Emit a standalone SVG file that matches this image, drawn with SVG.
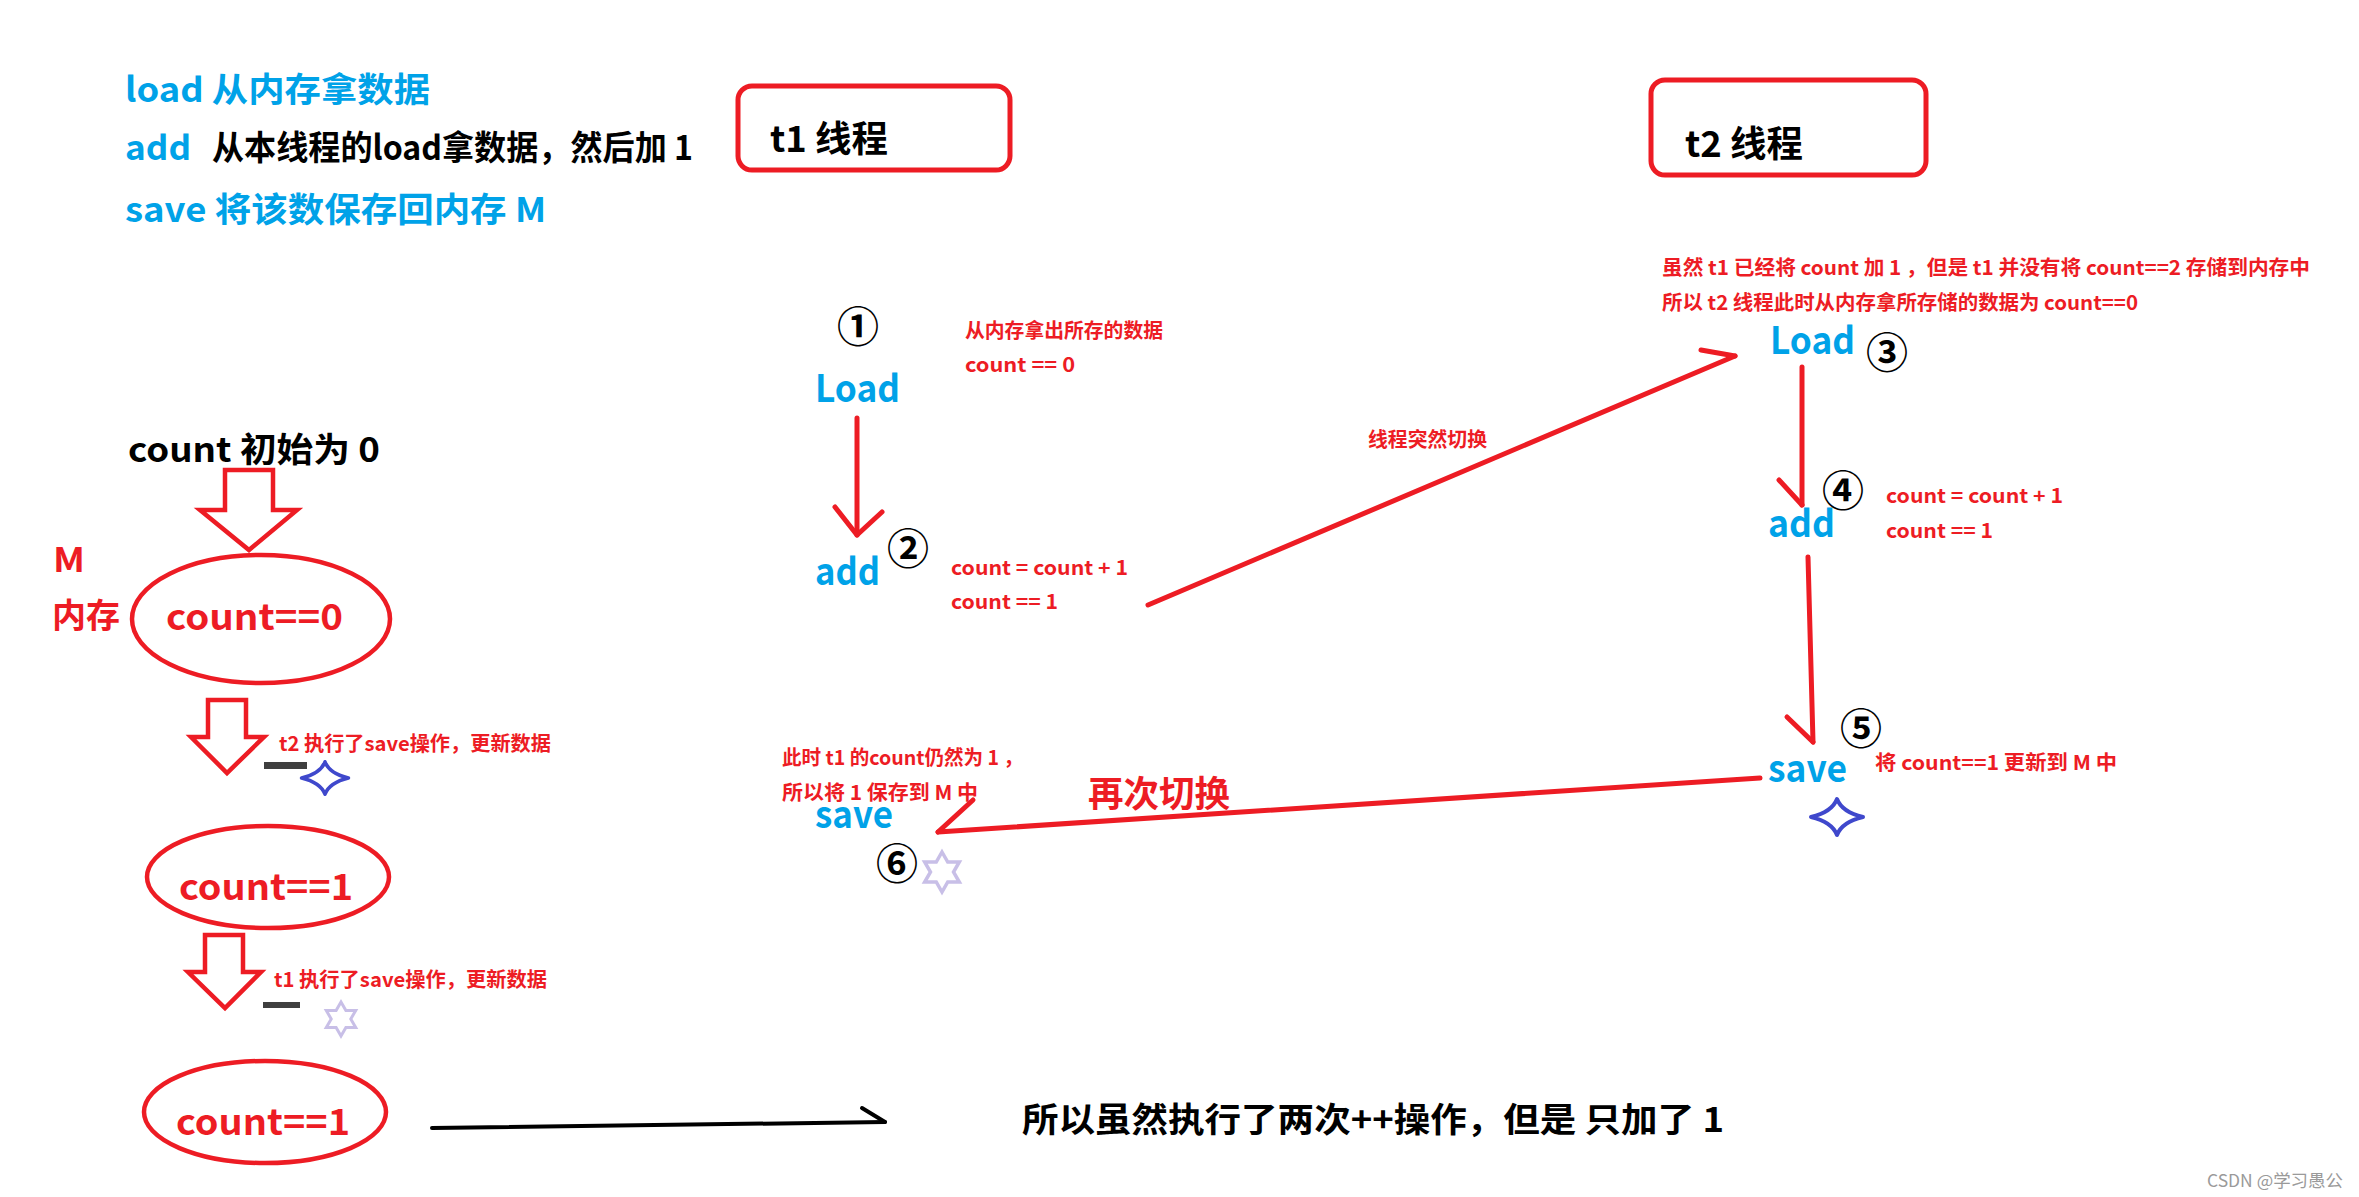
<svg xmlns="http://www.w3.org/2000/svg" width="2359" height="1197" viewBox="0 0 2359 1197">
<style>
text{font-family:"Microsoft YaHei","Noto Sans CJK SC","Noto Sans",sans-serif;font-weight:bold}
.blue{fill:#00A2E8}
.red{fill:#ED1C24}
.blk{fill:#000}
.op{font-size:38px;fill:#00A2E8}
.note{font-size:20px;fill:#ED1C24}
.leg{font-size:34px}
.num{font-size:42px;fill:#000;text-anchor:middle;dominant-baseline:central;font-weight:bold}
.ln{stroke:#ED1C24;stroke-width:5;fill:none;stroke-linecap:round;stroke-linejoin:round}
.box{fill:none;stroke:#ED1C24;stroke-width:5}
.ell{fill:none;stroke:#ED1C24;stroke-width:4.5}
.barrow{fill:#fff;stroke:#ED1C24;stroke-width:4.5;stroke-linejoin:miter}
.star4{fill:#fff;stroke:#3F48CC;stroke-width:4;stroke-linejoin:round}
.star6{fill:#fff;stroke:#C8BFE7;stroke-width:3.5}
.bar{fill:#3F3F3F}
</style>
<defs>
<path id="s4" d="M-26,0 Q-5,-5 0,-18 Q5,-5 26,0 Q5,5 0,18 Q-5,5 -26,0 Z"/>
<polygon id="s6" points="0,-20 5.75,-9.96 17.32,-10 11.5,0 17.32,10 5.75,9.96 0,20 -5.75,9.96 -17.32,10 -11.5,0 -17.32,-10 -5.75,-9.96"/>
</defs>
<rect width="2359" height="1197" fill="#fff"/>

<g id="legend">
<text class="leg blue" x="125" y="102" textLength="305" lengthAdjust="spacingAndGlyphs">load 从内存拿数据</text>
<text class="leg blue" x="125" y="160" textLength="66" lengthAdjust="spacingAndGlyphs">add</text>
<text class="leg blk" x="212" y="160" textLength="481" lengthAdjust="spacingAndGlyphs">从本线程的load拿数据，然后加 1</text>
<text class="leg blue" x="125" y="222" textLength="421" lengthAdjust="spacingAndGlyphs">save 将该数保存回内存 M</text>
</g>

<g id="t1-header">
<rect class="box" x="738" y="86" width="272" height="84" rx="14"/>
<text x="770" y="152" font-size="36" fill="#000" textLength="118" lengthAdjust="spacingAndGlyphs">t1 线程</text>
</g>
<g id="t2-header">
<rect class="box" x="1651" y="80" width="275" height="95" rx="14"/>
<text x="1685" y="157" font-size="36" fill="#000" textLength="118" lengthAdjust="spacingAndGlyphs">t2 线程</text>
</g>

<g id="t2-note">
<text class="note" x="1662" y="275" textLength="648" lengthAdjust="spacingAndGlyphs">虽然 t1 已经将 count 加 1 ，但是 t1 并没有将 count==2 存储到内存中</text>
<text class="note" x="1662" y="310" textLength="476" lengthAdjust="spacingAndGlyphs">所以 t2 线程此时从内存拿所存储的数据为 count==0</text>
</g>

<g id="t1-load">
<text class="num" x="858" y="323">①</text>
<text class="op" x="815" y="402" textLength="85" lengthAdjust="spacingAndGlyphs">Load</text>
<text class="note" x="965" y="338" textLength="198" lengthAdjust="spacingAndGlyphs">从内存拿出所存的数据</text>
<text class="note" x="965" y="372" textLength="110" lengthAdjust="spacingAndGlyphs">count == 0</text>
</g>
<g id="t1-add">
<text class="op" x="815" y="585" textLength="65" lengthAdjust="spacingAndGlyphs">add</text>
<text class="num" x="908" y="545">②</text>
<text class="note" x="951" y="575" textLength="177" lengthAdjust="spacingAndGlyphs">count = count + 1</text>
<text class="note" x="951" y="609" textLength="107" lengthAdjust="spacingAndGlyphs">count == 1</text>
</g>
<g id="t2-load">
<text class="op" x="1770" y="354" textLength="85" lengthAdjust="spacingAndGlyphs">Load</text>
<text class="num" x="1887" y="349">③</text>
</g>
<g id="t2-add">
<text class="op" x="1768" y="537" textLength="67" lengthAdjust="spacingAndGlyphs">add</text>
<text class="num" x="1843" y="487">④</text>
<text class="note" x="1886" y="503" textLength="177" lengthAdjust="spacingAndGlyphs">count = count + 1</text>
<text class="note" x="1886" y="538" textLength="107" lengthAdjust="spacingAndGlyphs">count == 1</text>
</g>
<g id="t2-save">
<text class="op" x="1768" y="782" textLength="79" lengthAdjust="spacingAndGlyphs">save</text>
<text class="num" x="1861" y="725">⑤</text>
<text class="note" x="1875" y="770" textLength="242" lengthAdjust="spacingAndGlyphs">将 count==1 更新到 M 中</text>
<use href="#s4" class="star4" x="1837" y="817"/>
</g>
<g id="t1-save">
<text class="note" x="782" y="765" textLength="241" lengthAdjust="spacingAndGlyphs">此时 t1 的count仍然为 1 ，</text>
<text class="note" x="782" y="800" textLength="196" lengthAdjust="spacingAndGlyphs">所以将 1 保存到 M 中</text>
<text class="op" x="815" y="828" textLength="78" lengthAdjust="spacingAndGlyphs">save</text>
<text class="num" x="897" y="860">⑥</text>
<use href="#s6" class="star6" x="942" y="872"/>
</g>

<g id="memory">
<text x="128" y="462" font-size="34" fill="#000" textLength="252" lengthAdjust="spacingAndGlyphs">count 初始为 0</text>
<text x="53" y="572" font-size="34" class="red" textLength="32" lengthAdjust="spacingAndGlyphs">M</text>
<text x="52" y="628" font-size="34" class="red" textLength="68" lengthAdjust="spacingAndGlyphs">内存</text>
<path class="barrow" d="M225,470 L273,470 L273,510 L297,510 L249,550 L200,510 L225,510 Z"/>
<ellipse class="ell" cx="261" cy="619" rx="129" ry="64"/>
<text x="166" y="630" font-size="36" class="red" textLength="177" lengthAdjust="spacingAndGlyphs">count==0</text>
</g>
<g id="memory-t2">
<path class="barrow" d="M208,700 L246,700 L246,737 L264,737 L227,773 L191,737 L208,737 Z"/>
<text class="note" x="279" y="751" textLength="272" lengthAdjust="spacingAndGlyphs">t2 执行了save操作，更新数据</text>
<rect class="bar" x="264" y="762" width="43" height="7"/>
<use href="#s4" class="star4" x="325" y="778" transform="translate(325 778) scale(0.9) translate(-325 -778)"/>
<ellipse class="ell" cx="268" cy="877" rx="121" ry="51"/>
<text x="179" y="900" font-size="36" class="red" textLength="174" lengthAdjust="spacingAndGlyphs">count==1</text>
</g>
<g id="memory-t1">
<path class="barrow" d="M205,935 L243,935 L243,972 L261,972 L225,1008 L188,972 L205,972 Z"/>
<text class="note" x="274" y="987" textLength="273" lengthAdjust="spacingAndGlyphs">t1 执行了save操作，更新数据</text>
<rect class="bar" x="263" y="1002" width="37" height="6"/>
<use href="#s6" class="star6" x="341" y="1019" transform="translate(341 1019) scale(0.85) translate(-341 -1019)"/>
<ellipse class="ell" cx="265" cy="1112" rx="121" ry="51"/>
<text x="176" y="1135" font-size="36" class="red" textLength="174" lengthAdjust="spacingAndGlyphs">count==1</text>
</g>
<g id="conclusion">
<text x="1022" y="1132" font-size="34" fill="#000" textLength="702" lengthAdjust="spacingAndGlyphs">所以虽然执行了两次++操作，但是 只加了 1</text>
</g>
<g id="watermark">
<text x="2207" y="1187" font-size="17" fill="#9a9a9a" style="font-weight:normal" textLength="136" lengthAdjust="spacingAndGlyphs">CSDN @学习愚公</text>
</g>

<g id="connectors">
<line class="ln" x1="857" y1="418" x2="857" y2="535"/>
<polyline class="ln" points="835,507 857,535 882,512"/>
<line class="ln" x1="1148" y1="605" x2="1735" y2="356"/>
<line class="ln" x1="1701" y1="350" x2="1735" y2="356"/>
<text class="note" x="1368" y="447" textLength="119" lengthAdjust="spacingAndGlyphs">线程突然切换</text>
<line class="ln" x1="1802" y1="367" x2="1802" y2="505"/>
<line class="ln" x1="1779" y1="480" x2="1802" y2="505"/>
<line class="ln" x1="1808" y1="557" x2="1813" y2="742"/>
<line class="ln" x1="1787" y1="717" x2="1813" y2="742"/>
<line class="ln" x1="1760" y1="778" x2="938" y2="832"/>
<line class="ln" x1="938" y1="832" x2="973" y2="800"/>
<text x="1088" y="807" font-size="36" class="red" textLength="142" lengthAdjust="spacingAndGlyphs">再次切换</text>
<line x1="432" y1="1128" x2="885" y2="1122" stroke="#000" stroke-width="4" stroke-linecap="round"/>
<line x1="862" y1="1108" x2="885" y2="1122" stroke="#000" stroke-width="4" stroke-linecap="round"/>
</g>
</svg>
